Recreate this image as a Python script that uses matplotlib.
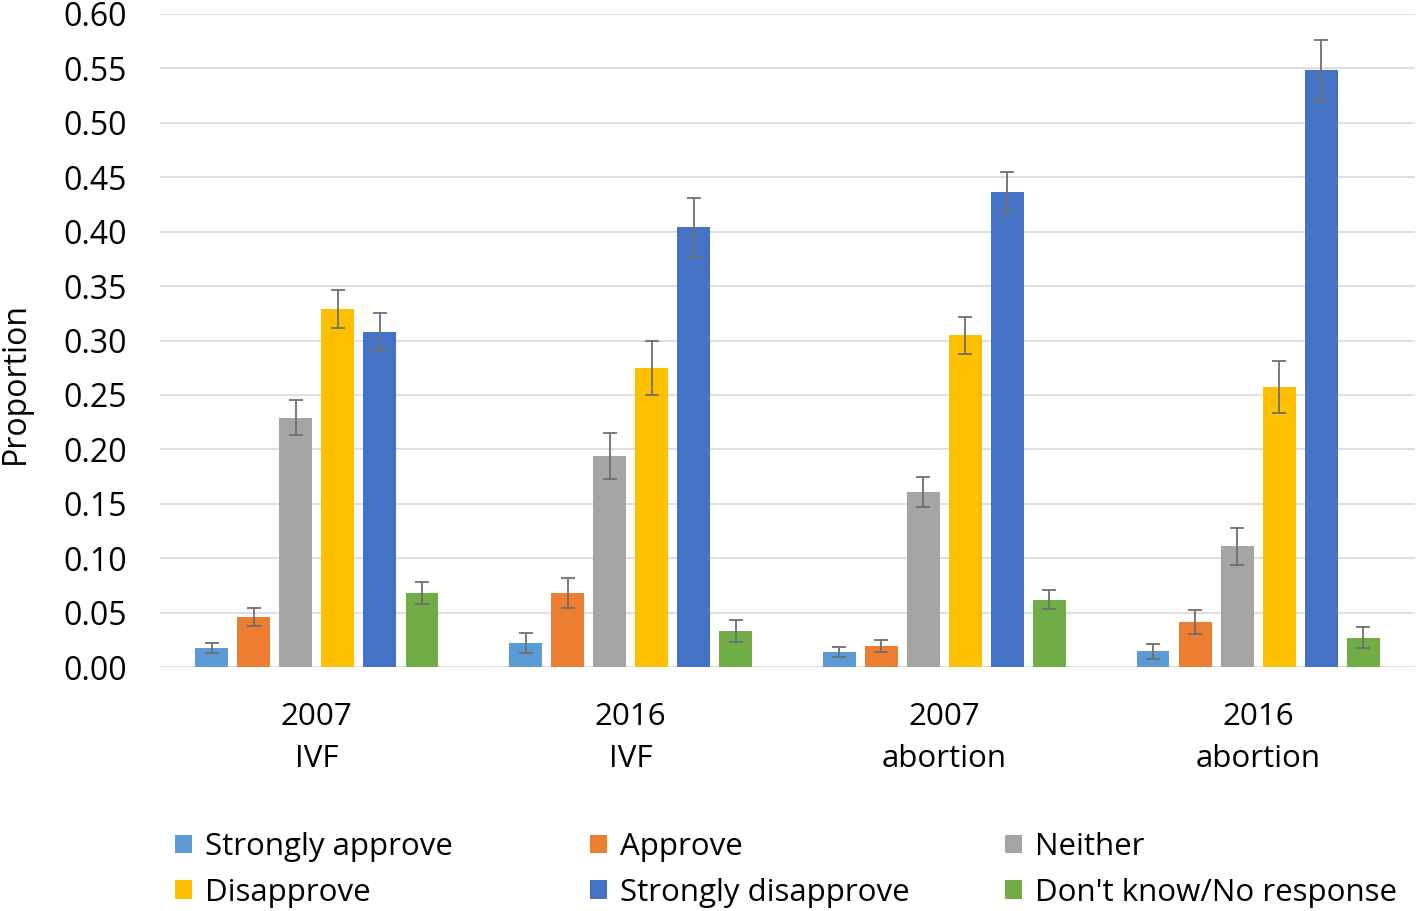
import matplotlib
matplotlib.use("Agg")
import matplotlib.pyplot as plt
import numpy as np
from matplotlib.patches import Patch

plt.rcParams['font.family'] = ['Open Sans', 'DejaVu Sans']

groups = ["2007\nIVF", "2016\nIVF", "2007\nabortion", "2016\nabortion"]
series = ["Strongly approve", "Approve", "Neither", "Disapprove",
          "Strongly disapprove", "Don't know/No response"]
colors = ["#5B9BD5", "#ED7D31", "#A5A5A5", "#FFC000", "#4472C4", "#70AD47"]

strongly_approve = [0.0175, 0.022, 0.014, 0.0145]
approve = [0.046, 0.068, 0.019, 0.041]
neither = [0.229, 0.194, 0.161, 0.111]
disapprove = [0.329, 0.275, 0.305, 0.257]
strongly_disapprove = [0.308, 0.404, 0.436, 0.5485]
dont_know = [0.068, 0.033, 0.062, 0.027]

err_strongly_approve = [0.005, 0.009, 0.0046, 0.0067]
err_approve = [0.008, 0.014, 0.0055, 0.011]
err_neither = [0.016, 0.021, 0.014, 0.017]
err_disapprove = [0.0175, 0.025, 0.017, 0.024]
err_strongly_disapprove = [0.0175, 0.027, 0.019, 0.028]
err_dont_know = [0.0097, 0.010, 0.009, 0.0093]

values = [strongly_approve, approve, neither, disapprove, strongly_disapprove, dont_know]
errors = [err_strongly_approve, err_approve, err_neither, err_disapprove,
          err_strongly_disapprove, err_dont_know]

W, H = 1418, 911
fig = plt.figure(figsize=(W / 100, H / 100), dpi=100)
ax = fig.add_axes([160 / W, 1 - 667 / H, (1415 - 160) / W, (667 - 14) / H])

x = np.arange(len(groups))
step = 0.134
bw = 0.105
for i, (vals, errs, c, name) in enumerate(zip(values, errors, colors, series)):
    pos = x + (i - 2.5) * step
    ax.bar(pos, vals, width=bw, color=c, label=name, zorder=2)
    ax.errorbar(pos, vals, yerr=errs, fmt='none', ecolor='#6E6E6E',
                elinewidth=1.3, capsize=5, capthick=1.3, zorder=3)

ax.set_xlim(-0.5, 3.5)
ax.set_ylim(0, 0.6)
ax.set_yticks(np.arange(0, 0.601, 0.05))
ax.set_yticklabels([f"{v:.2f}" for v in np.arange(0, 0.601, 0.05)], fontsize=23)
ax.set_xticks(x)
ax.set_xticklabels(groups, linespacing=1.55, fontsize=22.5)
ax.grid(axis='y', color='#D9D9D9', linewidth=1.2, zorder=0)
ax.set_axisbelow(True)
for s in ax.spines.values():
    s.set_visible(False)
ax.tick_params(axis='both', length=0, colors='black')
ax.tick_params(axis='y', pad=24)
ax.tick_params(axis='x', pad=25)
ax.set_ylabel("Proportion", fontsize=23)
ax.yaxis.set_label_coords(-128 / (1415 - 160), 0.435)

handles = [Patch(facecolor=c, edgecolor='none') for c in colors]
cols = [(0, 3), (1, 4), (2, 5)]
xs = [175, 590, 1005]
for (a, b), xp in zip(cols, xs):
    fig.legend([handles[a], handles[b]], [series[a], series[b]],
               loc='upper left', bbox_to_anchor=(xp / W, 1 - 832 / H),
               frameon=False, fontsize=22.5, handlelength=0.55,
               handleheight=0.55, handletextpad=0.4, labelspacing=0.5,
               borderpad=0, borderaxespad=0)

fig.savefig("out.png", dpi=100, facecolor='white')
